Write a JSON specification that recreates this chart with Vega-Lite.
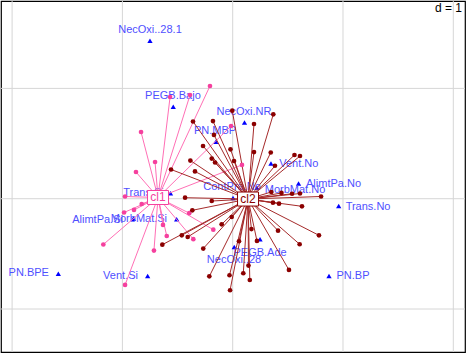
{
  "$schema": "https://vega.github.io/schema/vega-lite/v6.json",
  "width": 464,
  "height": 351,
  "autosize": {"type": "none"},
  "padding": {"left": 1, "top": 1, "right": 1, "bottom": 2},
  "config": {"view": {"stroke": "#000000", "strokeWidth": 1.2}, "text": {"font": "Liberation Sans"}},
  "datasets": {
    "gridx": [{"v": -2}, {"v": -1}, {"v": 0}, {"v": 1}, {"v": 2}],
    "gridy": [{"v": -1}, {"v": 0}, {"v": 1}],
    "cents": [
      {"cls": "cl1", "x": -0.677, "y": 0.011},
      {"cls": "cl2", "x": 0.139, "y": -0.003}
    ],
    "mods": [
      {"label": "NecOxi..28.1", "x": -0.750, "y": 1.432, "lx": -0.750, "ly": 1.529},
      {"label": "PEGB.Bajo", "x": -0.539, "y": 0.834, "lx": -0.542, "ly": 0.931},
      {"label": "PN.MBP", "x": -0.153, "y": 0.517, "lx": -0.160, "ly": 0.614},
      {"label": "NecOxi.NR", "x": 0.107, "y": 0.691, "lx": 0.102, "ly": 0.783},
      {"label": "Vent.No", "x": 0.347, "y": 0.319, "lx": 0.599, "ly": 0.315},
      {"label": "AlimtPa.No", "x": 0.597, "y": 0.138, "lx": 0.914, "ly": 0.131},
      {"label": "MorbMat.No", "x": 0.220, "y": 0.100, "lx": 0.565, "ly": 0.077},
      {"label": "Trans.No", "x": 0.961, "y": -0.066, "lx": 1.227, "ly": -0.073},
      {"label": "PN.BP", "x": 0.873, "y": -0.701, "lx": 1.091, "ly": -0.704},
      {"label": "PEGB.Ade", "x": 0.248, "y": -0.368, "lx": 0.248, "ly": -0.494},
      {"label": "NecOxi..28", "x": 0.014, "y": -0.438, "lx": 0.012, "ly": -0.556},
      {"label": "ContPra.No", "x": 0.003, "y": 0.006, "lx": -0.006, "ly": 0.109},
      {"label": "Trans.Si", "x": -0.564, "y": 0.050, "lx": -0.809, "ly": 0.049},
      {"label": "AlimtPa.Si", "x": -0.901, "y": -0.181, "lx": -1.225, "ly": -0.190},
      {"label": "MorbMat.Si", "x": -0.508, "y": -0.187, "lx": -0.850, "ly": -0.188},
      {"label": "Vent.Si", "x": -0.771, "y": -0.701, "lx": -1.017, "ly": -0.701},
      {"label": "PN.BPE", "x": -1.581, "y": -0.680, "lx": -1.849, "ly": -0.674}
    ],
    "pts": [
      {"cls": "cl1", "x": -0.206, "y": 1.022},
      {"cls": "cl1", "x": -0.387, "y": 0.940},
      {"cls": "cl1", "x": -0.568, "y": 0.922},
      {"cls": "cl1", "x": -0.831, "y": 0.605},
      {"cls": "cl1", "x": -0.704, "y": 0.333},
      {"cls": "cl1", "x": -0.877, "y": 0.242},
      {"cls": "cl1", "x": -0.015, "y": 0.659},
      {"cls": "cl1", "x": 0.084, "y": 0.306},
      {"cls": "cl1", "x": -0.976, "y": 0.020},
      {"cls": "cl1", "x": -0.825, "y": -0.048},
      {"cls": "cl1", "x": -0.895, "y": -0.102},
      {"cls": "cl1", "x": -0.985, "y": -0.125},
      {"cls": "cl1", "x": -1.173, "y": -0.415},
      {"cls": "cl1", "x": -0.714, "y": -0.470},
      {"cls": "cl1", "x": -0.632, "y": -0.238},
      {"cls": "cl1", "x": -0.598, "y": -0.338},
      {"cls": "cl1", "x": -0.394, "y": -0.131},
      {"cls": "cl1", "x": -0.176, "y": -0.281},
      {"cls": "cl1", "x": -0.357, "y": -0.367},
      {"cls": "cl1", "x": -0.976, "y": -0.782},
      {"cls": "cl2", "x": -0.360, "y": 0.700},
      {"cls": "cl2", "x": -0.179, "y": 0.704},
      {"cls": "cl2", "x": -0.004, "y": 0.798},
      {"cls": "cl2", "x": 0.368, "y": 0.765},
      {"cls": "cl2", "x": 0.193, "y": 0.677},
      {"cls": "cl2", "x": -0.170, "y": 0.578},
      {"cls": "cl2", "x": -0.269, "y": 0.478},
      {"cls": "cl2", "x": -0.020, "y": 0.448},
      {"cls": "cl2", "x": -0.190, "y": 0.364},
      {"cls": "cl2", "x": -0.160, "y": 0.328},
      {"cls": "cl2", "x": -0.384, "y": 0.346},
      {"cls": "cl2", "x": 0.012, "y": 0.342},
      {"cls": "cl2", "x": 0.193, "y": 0.423},
      {"cls": "cl2", "x": 0.345, "y": 0.419},
      {"cls": "cl2", "x": 0.383, "y": 0.299},
      {"cls": "cl2", "x": 0.560, "y": 0.396},
      {"cls": "cl2", "x": 0.610, "y": 0.387},
      {"cls": "cl2", "x": -0.559, "y": 0.265},
      {"cls": "cl2", "x": -0.342, "y": 0.247},
      {"cls": "cl2", "x": -0.432, "y": 0.009},
      {"cls": "cl2", "x": -0.190, "y": -0.021},
      {"cls": "cl2", "x": -0.366, "y": -0.105},
      {"cls": "cl2", "x": -0.100, "y": -0.232},
      {"cls": "cl2", "x": -0.009, "y": -0.166},
      {"cls": "cl2", "x": -0.638, "y": -0.417},
      {"cls": "cl2", "x": -0.462, "y": -0.332},
      {"cls": "cl2", "x": -0.408, "y": -0.347},
      {"cls": "cl2", "x": -0.267, "y": -0.452},
      {"cls": "cl2", "x": -0.212, "y": -0.704},
      {"cls": "cl2", "x": -0.029, "y": -0.694},
      {"cls": "cl2", "x": -0.024, "y": -0.830},
      {"cls": "cl2", "x": 0.801, "y": 0.020},
      {"cls": "cl2", "x": 0.610, "y": 0.047},
      {"cls": "cl2", "x": 0.538, "y": 0.045},
      {"cls": "cl2", "x": 0.442, "y": 0.052},
      {"cls": "cl2", "x": 0.350, "y": 0.061},
      {"cls": "cl2", "x": 0.365, "y": -0.036},
      {"cls": "cl2", "x": 0.420, "y": -0.045},
      {"cls": "cl2", "x": 0.628, "y": -0.069},
      {"cls": "cl2", "x": 0.782, "y": -0.332},
      {"cls": "cl2", "x": 0.607, "y": -0.413},
      {"cls": "cl2", "x": 0.510, "y": -0.646},
      {"cls": "cl2", "x": 0.411, "y": -0.290},
      {"cls": "cl2", "x": 0.170, "y": -0.275},
      {"cls": "cl2", "x": 0.220, "y": -0.383},
      {"cls": "cl2", "x": 0.057, "y": -0.386},
      {"cls": "cl2", "x": 0.143, "y": -0.606},
      {"cls": "cl2", "x": 0.155, "y": -0.737},
      {"cls": "cl2", "x": 0.096, "y": -0.676}
    ],
    "note": [{"label": "d = 1", "x": 2.079, "y": 1.729}]
  },
  "layer": [
    {
      "data": {"name": "gridx"},
      "mark": {"type": "rule", "color": "#d6d6d6", "strokeWidth": 1},
      "encoding": {
        "x": {"field": "v", "type": "quantitative", "scale": {"domain": [-2.1007, 2.1061], "nice": false, "zero": false}, "axis": null}
      }
    },
    {
      "data": {"name": "gridy"},
      "mark": {"type": "rule", "color": "#d6d6d6", "strokeWidth": 1},
      "encoding": {
        "y": {"field": "v", "type": "quantitative", "scale": {"domain": [-1.3898, 1.7924], "nice": false, "zero": false}, "axis": null}
      }
    },
    {
      "data": {"name": "mods"},
      "mark": {"type": "point", "shape": "triangle-up", "filled": true, "color": "#0000ff", "size": 28, "opacity": 1},
      "encoding": {
        "x": {"field": "x", "type": "quantitative", "axis": null},
        "y": {"field": "y", "type": "quantitative", "axis": null}
      }
    },
    {
      "data": {"name": "mods"},
      "mark": {"type": "text", "color": "#4f4fff", "fontSize": 11, "baseline": "middle", "align": "center"},
      "encoding": {
        "x": {"field": "lx", "type": "quantitative", "axis": null},
        "y": {"field": "ly", "type": "quantitative", "axis": null},
        "text": {"field": "label"}
      }
    },
    {
      "data": {"name": "pts"},
      "transform": [{"lookup": "cls", "from": {"data": {"name": "cents"}, "key": "cls", "fields": ["x", "y"]}, "as": ["cx", "cy"]}],
      "mark": {"type": "rule", "strokeWidth": 1},
      "encoding": {
        "x": {"field": "x", "type": "quantitative", "axis": null},
        "y": {"field": "y", "type": "quantitative", "axis": null},
        "x2": {"field": "cx"},
        "y2": {"field": "cy"},
        "color": {"field": "cls", "type": "nominal", "scale": {"domain": ["cl1", "cl2"], "range": ["#ff6fb5", "#a52a2a"]}, "legend": null}
      }
    },
    {
      "data": {"name": "pts"},
      "mark": {"type": "circle", "size": 22, "opacity": 1},
      "encoding": {
        "x": {"field": "x", "type": "quantitative", "axis": null},
        "y": {"field": "y", "type": "quantitative", "axis": null},
        "color": {"field": "cls", "type": "nominal", "scale": {"domain": ["cl1", "cl2"], "range": ["#f5409e", "#8b0000"]}, "legend": null}
      }
    },
    {
      "data": {"name": "cents"},
      "mark": {"type": "point", "shape": "M-1,-0.667H1V0.667H-1Z", "size": 441, "filled": false, "fill": "#ffffff", "fillOpacity": 1, "strokeWidth": 1, "opacity": 1},
      "encoding": {
        "x": {"field": "x", "type": "quantitative", "axis": null},
        "y": {"field": "y", "type": "quantitative", "axis": null},
        "stroke": {"field": "cls", "type": "nominal", "scale": {"domain": ["cl1", "cl2"], "range": ["#f5409e", "#8b0000"]}, "legend": null}
      }
    },
    {
      "data": {"name": "cents"},
      "mark": {"type": "text", "fontSize": 12, "baseline": "middle", "align": "center"},
      "encoding": {
        "x": {"field": "x", "type": "quantitative", "axis": null},
        "y": {"field": "y", "type": "quantitative", "axis": null},
        "text": {"field": "cls"},
        "color": {"field": "cls", "type": "nominal", "scale": {"domain": ["cl1", "cl2"], "range": ["#f5409e", "#8b0000"]}, "legend": null}
      }
    },
    {
      "data": {"name": "note"},
      "mark": {"type": "text", "fontSize": 12, "align": "right", "baseline": "middle", "color": "#000000"},
      "encoding": {
        "x": {"field": "x", "type": "quantitative", "axis": null},
        "y": {"field": "y", "type": "quantitative", "axis": null},
        "text": {"field": "label"}
      }
    }
  ],
  "resolve": {"scale": {"color": "independent"}}
}
